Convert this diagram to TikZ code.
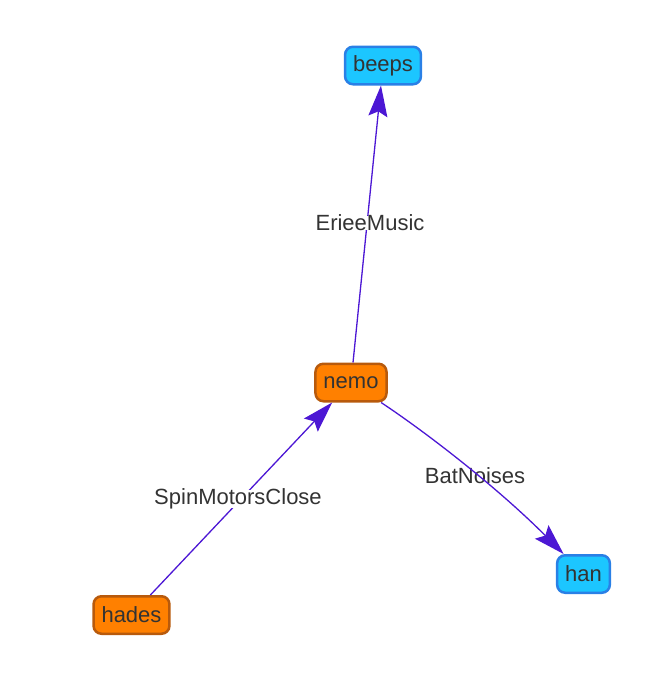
\documentclass[tikz,border=0pt]{standalone}
\usepackage{fontspec}
\setmainfont{Liberation Sans}
\usetikzlibrary{arrows.meta}
\definecolor{edgec}{HTML}{4C17D4}
\definecolor{orfill}{HTML}{FF8000}
\definecolor{ordraw}{HTML}{B85A0C}
\definecolor{blfill}{HTML}{1CC6FF}
\definecolor{bldraw}{HTML}{2A80E6}
\definecolor{txt}{HTML}{333333}
\tikzset{
  basebox/.style={rounded corners=8pt, line width=2.5pt, inner xsep=8pt, inner ysep=0pt,
    minimum height=37.5pt, text=txt, font=\fontsize{22}{26}\selectfont},
  orbox/.style={basebox, fill=orfill, draw=ordraw},
  blbox/.style={basebox, fill=blfill, draw=bldraw},
  conn/.style={draw=edgec, line width=1.3pt, -{Stealth[length=31pt,width=19pt,inset=5pt]}},
  lab/.style={text=txt, font=\fontsize{22}{26}\selectfont, inner xsep=1pt, inner ysep=-1pt},
  labw/.style={lab, fill=white},
}
\begin{document}
\begin{tikzpicture}[x=1pt,y=-1pt]
\useasboundingbox (0,0) rectangle (670,680);
\node[blbox] (beeps) at (383,65.5) {beeps};
\node[orbox] (nemo) at (351,382.5) {nemo};
\node[orbox] (hades) at (131.5,615) {hades};
\node[blbox] (han) at (583.5,574) {han};
\node[lab] (l3) at (475,476) {BatNoises};
\draw[conn] (nemo) -- (beeps);
\draw[conn] (hades) -- (nemo);
\draw[conn] (nemo) .. controls (430,435) and (500,490) .. (han);
\node[labw] (l1) at (370,223) {ErieeMusic};
\node[labw] (l2) at (238,499) {SpinMotorsClose};
\end{tikzpicture}
\end{document}
